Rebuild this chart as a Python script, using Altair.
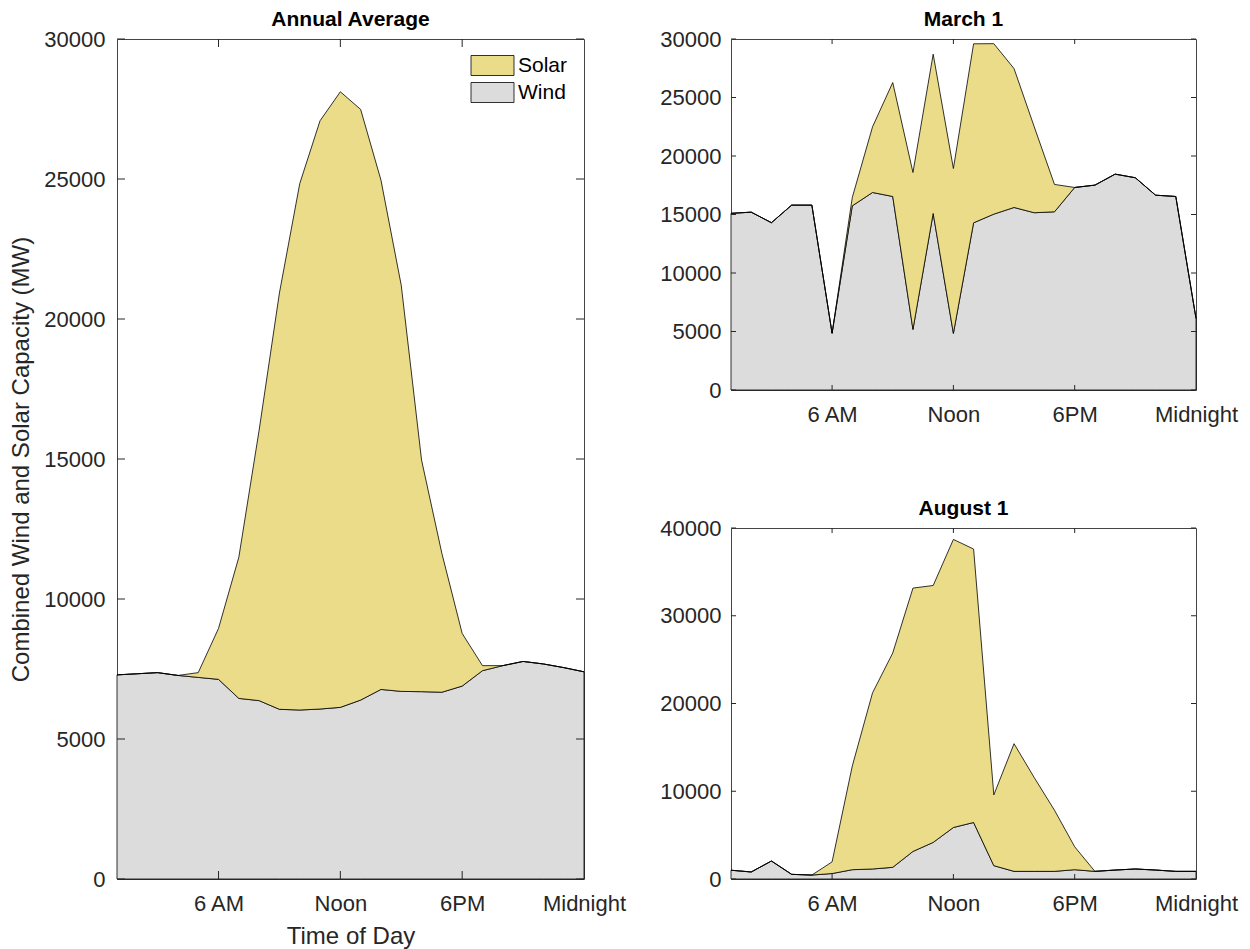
import altair as alt
import pandas as pd

# ---------------- data ----------------
hours = list(range(1, 25))

annual_wind = [7290, 7330, 7370, 7270, 7200, 7130, 6450, 6370, 6060, 6035, 6070, 6130,
               6390, 6770, 6700, 6690, 6670, 6890, 7440, 7620, 7770, 7680, 7550, 7400]
annual_solar = [0, 0, 0, 0, 170, 1820, 5040, 9660, 14870, 18800, 21010, 21985,
                21095, 18190, 14500, 8270, 4960, 1880, 180, 0, 0, 0, 0, 0]

march_wind = [15100, 15200, 14300, 15800, 15800, 4850, 15740, 16880, 16540, 5180, 15090, 4840,
              14290, 15030, 15600, 15150, 15230, 17310, 17510, 18450, 18140, 16650, 16540, 6120]
march_solar = [0, 0, 0, 0, 0, 0, 720, 5610, 9740, 13410, 13610, 14090,
               15300, 14570, 11870, 7340, 2340, 0, 0, 0, 0, 0, 0, 0]

aug_wind = [1000, 800, 2050, 530, 450, 620, 1060, 1140, 1330, 3140, 4170, 5870,
            6440, 1520, 870, 870, 870, 1060, 870, 1020, 1140, 1020, 870, 870]
aug_solar = [0, 0, 0, 0, 0, 1330, 11820, 20070, 24430, 30010, 29280, 32830,
             31160, 8060, 14550, 10680, 6970, 2610, 0, 0, 0, 0, 0, 0]

tick_hours = [6, 12, 18, 24]
tick_names = ["6 AM", "Noon", "6PM", "Midnight"]

series_names = ["Solar", "Wind"]
series_colors = ["#EBDC8A", "#DCDCDC"]

FONT = "Liberation Sans"
AXIS_COLOR = "#262626"


def make_df(wind, solar):
    rows = []
    for h, w, s in zip(hours, wind, solar):
        rows.append({"hour": h, "series": "Wind", "value": w, "ord": 0})
        rows.append({"hour": h, "series": "Solar", "value": s, "ord": 1})
    return pd.DataFrame(rows)


label_expr = " : ".join(
    f"datum.value == {h} ? '{n}'" for h, n in zip(tick_hours, tick_names)
) + " : ''"


def panel(df, title, w, h, ymax, ystep, tick_len, legend, xtitle, ytitle, lab_pad):
    xs = alt.Scale(domain=[1, 24], nice=False, zero=False)
    ys = alt.Scale(domain=[0, ymax], nice=False)
    yticks = list(range(0, ymax + 1, ystep))

    x_axis_kw = dict(values=tick_hours, labelExpr=label_expr, ticks=False, tickSize=0,
                     domain=False, grid=False, labelFlush=False, labelOverlap=False,
                     labelPadding=14, titlePadding=10)
    y_axis_kw = dict(values=yticks, ticks=False, tickSize=0, domain=False, grid=False,
                     labelPadding=lab_pad, titlePadding=10, format="d", labelOverlap=False)
    x_axis_kw["title"] = xtitle
    y_axis_kw["title"] = ytitle

    color_kw = dict(scale=alt.Scale(domain=series_names, range=series_colors))
    color_kw["legend"] = legend

    x_axis = alt.Axis(**x_axis_kw)
    y_axis = alt.Axis(**y_axis_kw)

    area = alt.Chart(df).mark_area(
        stroke="black", strokeWidth=0.8, opacity=1, fillOpacity=1, interpolate="linear"
    ).encode(
        x=alt.X("hour:Q", scale=xs, axis=x_axis),
        y=alt.Y("value:Q", stack="zero", scale=ys, axis=y_axis),
        color=alt.Color("series:N", **color_kw),
        order=alt.Order("ord:Q"),
    )

    ydf = pd.DataFrame({"value": yticks})
    xdf = pd.DataFrame({"hour": tick_hours[:-1]})
    lt = alt.Chart(ydf).mark_rule(color=AXIS_COLOR, strokeWidth=1).encode(
        y=alt.Y("value:Q", scale=ys, axis=y_axis), x=alt.value(0), x2=alt.value(tick_len))
    rt = alt.Chart(ydf).mark_rule(color=AXIS_COLOR, strokeWidth=1).encode(
        y=alt.Y("value:Q", scale=ys, axis=y_axis), x=alt.value(w - tick_len), x2=alt.value(w))
    bt = alt.Chart(xdf).mark_rule(color=AXIS_COLOR, strokeWidth=1).encode(
        x=alt.X("hour:Q", scale=xs, axis=x_axis), y=alt.value(h), y2=alt.value(h - tick_len))
    tt = alt.Chart(xdf).mark_rule(color=AXIS_COLOR, strokeWidth=1).encode(
        x=alt.X("hour:Q", scale=xs, axis=x_axis), y=alt.value(0), y2=alt.value(tick_len))

    return alt.layer(area, lt, rt, bt, tt).properties(
        width=w, height=h, title=alt.TitleParams(title, fontSize=21, fontWeight="bold",
                                                 font=FONT, color="black", offset=-2)
    )


legend = alt.Legend(
    title=None, orient="none", legendX=365, legendY=16, padding=0,
    symbolType="M-2.15,-1H2.15V1H-2.15Z", symbolSize=400,
    symbolStrokeColor="black", symbolStrokeWidth=0.8, symbolOpacity=1,
    labelFontSize=21, labelFont=FONT, labelColor="black", labelOffset=15,
    rowPadding=2,
)

left = panel(make_df(annual_wind, annual_solar), "Annual Average", 467, 840, 30000, 5000, 8,
             legend, "Time of Day", "Combined Wind and Solar Capacity (MW)", 12)
top_r = panel(make_df(march_wind, march_solar), "March 1", 465, 351, 30000, 5000, 5,
              None, None, None, 10)
bot_r = panel(make_df(aug_wind, aug_solar), "August 1", 465, 351, 40000, 10000, 5,
              None, None, None, 10)

right = alt.vconcat(top_r, bot_r, spacing=138, bounds="flush").resolve_legend(color="independent")
chart = alt.hconcat(left, right, spacing=147, bounds="flush").resolve_legend(
    color="independent"
).properties(
    padding={"left": 1, "top": 0, "right": 0, "bottom": 0}
).configure(
    background="white"
).configure_view(
    stroke="#444444", strokeWidth=1
).configure_axis(
    labelFont=FONT, labelFontSize=22, labelColor=AXIS_COLOR,
    titleFont=FONT, titleFontSize=24, titleColor=AXIS_COLOR, titleFontWeight="normal",
)

chart.save("out.html", embed_options={"renderer": "svg", "actions": False})
